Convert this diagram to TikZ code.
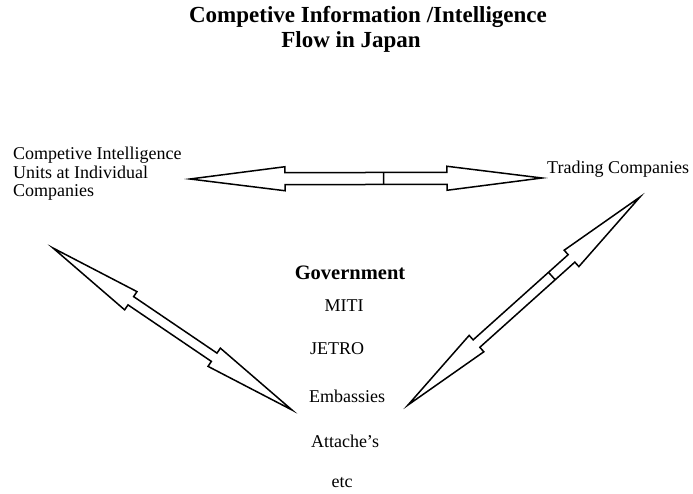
\documentclass[tikz,border=0pt]{standalone}
\usepackage{fontspec}
\setmainfont{Liberation Serif}
\usetikzlibrary{calc}
\tikzset{
  lbl/.style={inner sep=0pt, font=\fontsize{18}{18.5}\selectfont},
  ttl/.style={inner sep=0pt, font=\bfseries\fontsize{23}{26}\selectfont},
  fat/.style={draw=black, fill=white, line width=1.5pt, line join=miter},
  divider/.style={draw=black, line width=1.5pt}
}
% #1 tip A, #2 tip B, #3 head length, #4 head half width, #5 shaft half width
\newcommand\fatarrow[5]{%
  \path coordinate (p1) at ($(#1)!#3!(#2)$) coordinate (p2) at ($(#2)!#3!(#1)$);
  \draw[fat] (#1) -- ($(p1)!#4!90:(#2)$) -- ($(p1)!#5!90:(#2)$)
    -- ($(p2)!#5!-90:(#1)$) -- ($(p2)!#4!-90:(#1)$) -- (#2)
    -- ($(p2)!#4!90:(#1)$) -- ($(p2)!#5!90:(#1)$)
    -- ($(p1)!#5!-90:(#2)$) -- ($(p1)!#4!-90:(#2)$) -- cycle;
}
\newcommand\fatdivide[4]{% A, B, fraction, shaft half width
  \path coordinate (q) at ($(#1)!#3!(#2)$);
  \draw[divider] ($(q)!#4!90:(#2)$) -- ($(q)!#4!-90:(#2)$);
}
\begin{document}
\begin{tikzpicture}[x=1pt, y=-1pt]
\fill[white] (0,0) rectangle (693,494);
\useasboundingbox (0,0) rectangle (693,494);

\node[ttl] (title1) at (368,17) {Competive Information /Intelligence};
\node[ttl] (title2) at (351,42) {Flow in Japan};

\node[lbl, align=left, anchor=north west] (ciu) at (13,147) {Competive Intelligence\\Units at Individual\\Companies};
\node[lbl, anchor=west] (trading) at (547,169) {Trading Companies};

\node[lbl, font=\bfseries\fontsize{20.5}{22}\selectfont] (gov) at (350,273) {Government};
\node[lbl] (miti) at (344,306) {MITI};
\node[lbl] (jetro) at (337,349) {JETRO};
\node[lbl] (emb) at (347,396) {Embassies};
\node[lbl] (att) at (345,441) {Attache's};
\node[lbl] (etc) at (342,483) {etc};

% arrow tips
\coordinate (ta) at (190,179);
\coordinate (tb) at (542,178);
\coordinate (la) at (53,248);
\coordinate (lb) at (292,410);
\coordinate (ra) at (640,197);
\coordinate (rb) at (408,405);

\fatarrow{ta}{tb}{95pt}{12pt}{6pt}
\fatdivide{ta}{tb}{0.55}{6pt}
\fatarrow{la}{lb}{94pt}{11pt}{5pt}
\fatarrow{ra}{rb}{92pt}{11pt}{5pt}
\fatdivide{ra}{rb}{0.38}{5pt}
\end{tikzpicture}
\end{document}
